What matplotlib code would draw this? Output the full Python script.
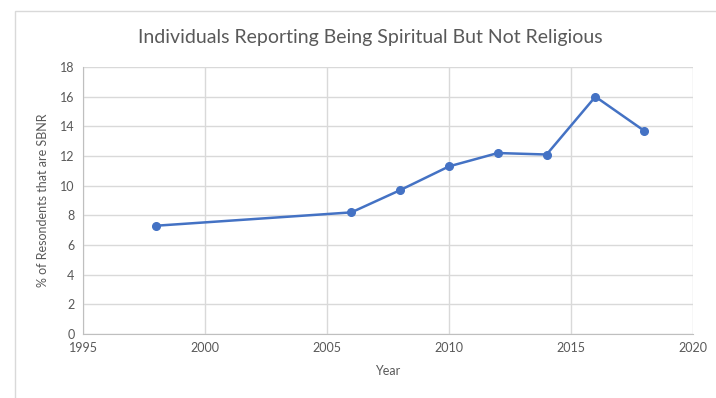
import matplotlib.pyplot as plt
from matplotlib.patches import Rectangle

years = [1998, 2006, 2008, 2010, 2012, 2014, 2016, 2018]
sbnr = [7.3, 8.2, 9.7, 11.3, 12.2, 12.1, 16.0, 13.7]
xticks = [1995, 2000, 2005, 2010, 2015, 2020]
yticks = [0, 2, 4, 6, 8, 10, 12, 14, 16, 18]

plt.rcParams['font.family'] = ['Lato', 'DejaVu Sans']

fig = plt.figure(figsize=(7.16, 3.98), dpi=100)
# outer chart frame (runs off the right and bottom edges)
fig.patches.append(Rectangle((15/716, -0.1), 1.0, 1.1 - 11/398, transform=fig.transFigure,
                             fill=False, edgecolor='#d9d9d9', lw=1))
ax = fig.add_axes([83/716, 1-334/398, 610/716, 267/398])

ax.plot(years, sbnr, color='#4472c4', lw=1.8, marker='o', ms=5.5, zorder=3)

ax.set_xlim(1995, 2020)
ax.set_ylim(0, 18)
ax.set_xticks(xticks)
ax.set_yticks(yticks)
ax.grid(True, color='#d9d9d9', lw=1)
ax.set_axisbelow(True)
for s in ['top', 'right']:
    ax.spines[s].set_visible(False)
for s in ['left', 'bottom']:
    ax.spines[s].set_color('#bfbfbf')
ax.tick_params(length=0, labelsize=9, labelcolor='#595959', pad=6)

fig.text(370/716, 1-38/398, 'Individuals Reporting Being Spiritual But Not Religious',
         fontsize=14, color='#595959', ha='center', va='center')
ax.set_xlabel('Year', fontsize=9, color='#595959', labelpad=8)
ax.set_ylabel('% of Resondents that are SBNR', fontsize=9, color='#595959', labelpad=8)

fig.savefig('out.png', dpi=100)
